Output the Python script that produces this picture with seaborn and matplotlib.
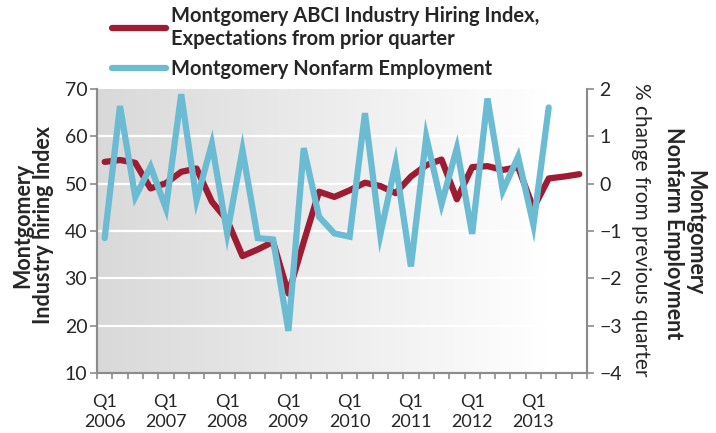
import numpy as np
import pandas as pd
import matplotlib
matplotlib.use("Agg")
import matplotlib.pyplot as plt
import seaborn as sns
from matplotlib.lines import Line2D

quarters = [f"{y}Q{q}" for y in range(2006, 2014) for q in range(1, 5)]
hiring_index = [54.6, 55.0, 54.4, 49.0, 50.1, 52.5, 53.2, 46.2, 42.3, 34.7, 36.1, 37.7,
                26.8, 37.7, 48.3, 47.2, 48.6, 50.2, 49.5, 48.0, 51.5, 53.9, 55.1, 46.7,
                53.5, 53.7, 52.9, 53.5, 44.8, 51.1, 51.5, 52.0]
nonfarm_pct = [-1.15, 1.64, -0.28, 0.36, -0.52, 1.89, -0.35, 0.84, -1.05, 0.71, -1.15, -1.18,
               -3.11, 0.75, -0.70, -1.05, -1.12, 1.49, -1.08, 0.43, -1.75, 0.99, -0.43, 0.75,
               -1.06, 1.80, -0.15, 0.57, -0.87, 1.61]
year_labels = ["Q1\n2006", "Q1\n2007", "Q1\n2008", "Q1\n2009", "Q1\n2010", "Q1\n2011", "Q1\n2012", "Q1\n2013"]

red = "#9E1B32"
blue = "#6BBCD3"
gray = "#8c8c8c"

sns.set_style("white")
plt.rcParams["font.family"] = ["Lato", "DejaVu Sans"]

fig = plt.figure(figsize=(7.16, 4.33), dpi=100)
ax = fig.add_axes([97/716, 1-373/433, (587-97)/716, (373-89)/433])

df_h = pd.DataFrame({"x": np.arange(len(hiring_index)), "v": hiring_index})
df_n = pd.DataFrame({"x": np.arange(len(nonfarm_pct)), "v": nonfarm_pct})

# gradient background
g = np.clip(np.linspace(0, 1, 256) / 0.92, 0, 1) * 0.15 + 0.85
img = np.tile(g[None, :, None], (2, 1, 3))
ax.imshow(img, extent=[0, 1, 0, 1], transform=ax.transAxes, aspect="auto", zorder=0)

ax.set_xlim(-0.5, 31.5)
ax.set_ylim(10, 70)
for yv in [20, 30, 40, 50, 60]:
    ax.axhline(yv, color="white", lw=1.6, zorder=1)

sns.lineplot(data=df_h, x="x", y="v", ax=ax, color=red, lw=4.5, zorder=3,
             solid_capstyle="round", solid_joinstyle="round")

ax2 = ax.twinx()
ax2.set_ylim(-4, 2)
sns.lineplot(data=df_n, x="x", y="v", ax=ax2, color=blue, lw=4.5, zorder=4,
             solid_capstyle="round", solid_joinstyle="miter")
ax2.set_xlim(-0.5, 31.5)

for a in (ax, ax2):
    a.spines["top"].set_visible(False)
    for s in ["left", "right", "bottom"]:
        a.spines[s].set_color(gray)
        a.spines[s].set_linewidth(1.5)

ax.set_yticks(range(10, 71, 10))
ax.tick_params(axis="y", direction="out", length=5, width=1.2, color=gray, labelsize=14, pad=2, left=True)
ax2.set_yticks(range(-4, 3))
ax2.tick_params(axis="y", direction="out", length=5, width=1.2, color=gray, labelsize=14, pad=4, right=True)

ax.set_xticks(range(0, 32, 4))
ax.set_xticklabels(year_labels, fontsize=13, linespacing=1.3)
ax.set_xticks(np.arange(-0.5, 32, 1), minor=True)
ax.tick_params(axis="x", which="major", length=0, pad=15)
ax.tick_params(axis="x", which="minor", direction="out", length=4, width=1.2, color=gray, bottom=True)
ax2.tick_params(axis="x", which="both", length=0)

ax.set_xlabel("")
ax.set_ylabel("Montgomery\nIndustry hiring Index", fontsize=15.5, fontweight="bold",
              linespacing=1.0)
ax.yaxis.set_label_coords((54 - 97) / 490, (373 - 225) / 284)
ax2.set_ylabel("")
fig.text(684/716, 1-233/433, "Montgomery\nNonfarm Employment", rotation=270, fontsize=15.5,
         fontweight="bold", ha="center", va="center", linespacing=1.0)
fig.text(641/716, 1-230/433, "% change from previous quarter", rotation=270, fontsize=15,
         ha="center", va="center")

handles = [Line2D([0], [0], color=red, lw=4.5, solid_capstyle="round"),
           Line2D([0], [0], color=blue, lw=4.5, solid_capstyle="round")]
labels = ["Montgomery ABCI Industry Hiring Index,\nExpectations from prior quarter",
          "Montgomery Nonfarm Employment"]
fig.legend(handles, labels, loc="upper left", bbox_to_anchor=(104/716, 1.005), frameon=False,
           prop={"weight": "bold", "size": 14.5}, handlelength=2.7, handletextpad=0.25,
           labelspacing=0.5, borderaxespad=0)

fig.savefig("out.png", dpi=100)
